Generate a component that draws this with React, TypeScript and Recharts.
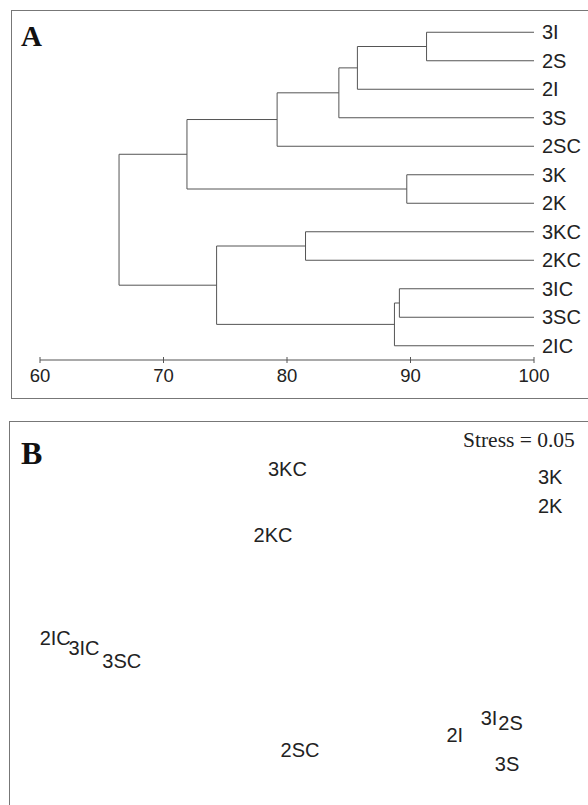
import { Scatter, ScatterChart, XAxis, YAxis } from "recharts";

// dendrogram leaves, top to bottom
const leafNames = ["3I", "2S", "2I", "3S", "2SC", "3K", "2K", "3KC", "2KC", "3IC", "3SC", "2IC"];

// merges in order: m0..m10 (similarity %)
const mergeLeft = ["3I", "m0", "m1", "m2", "3K", "m3", "3KC", "3IC", "m7", "m6", "m5"];
const mergeRight = ["2S", "2I", "3S", "2SC", "2K", "m4", "2KC", "3SC", "2IC", "m8", "m9"];
const mergeSimilarity = [91.3, 85.7, 84.2, 79.2, 89.7, 71.9, 81.5, 89.1, 88.7, 74.3, 66.4];

const simTicks = [60, 70, 80, 90, 100];

// NMDS ordination
const nmdsLabels = ["3KC", "2KC", "3K", "2K", "2IC", "3IC", "3SC", "2SC", "2I", "3I", "2S", "3S"];
const nmdsAxis1 = [-0.07, -0.15, 1.39, 1.39, -1.36, -1.2, -0.99, 0.0, 0.86, 1.05, 1.17, 1.15];
const nmdsAxis2 = [0.89, 0.5, 0.84, 0.67, -0.1, -0.16, -0.24, -0.76, -0.67, -0.57, -0.6, -0.84];

const SANS = "'Liberation Sans', Arial, sans-serif";
const SERIF = "'Liberation Serif', 'Times New Roman', serif";
const INK = "#222";
const LINE = "#555";

type Node = { x: number; y: number };

function buildLinks() {
  const nodes: Record<string, Node> = {};
  leafNames.forEach((n, i) => (nodes[n] = { x: 100, y: i }));
  const links: Node[][] = [];
  mergeSimilarity.forEach((h, i) => {
    const a = nodes[mergeLeft[i]];
    const b = nodes[mergeRight[i]];
    links.push([
      { x: a.x, y: a.y },
      { x: h, y: a.y },
      { x: h, y: b.y },
      { x: b.x, y: b.y },
    ]);
    nodes["m" + i] = { x: h, y: (a.y + b.y) / 2 };
  });
  return links;
}

const links = buildLinks();
const nmdsData = nmdsLabels.map((name, i) => ({ name, x: nmdsAxis1[i], y: nmdsAxis2[i] }));

const SimTick = (props: any) => {
  const { x, y, payload } = props;
  return (
    <g>
      <line x1={x} x2={x} y1={y - 3} y2={y + 3} stroke={LINE} />
      <text x={x} y={y + 22} textAnchor="middle" fontSize={18.5} fill={INK} fontFamily={SANS}>
        {payload.value}
      </text>
    </g>
  );
};

const LabelShape = (props: any) => {
  const { cx, cy, payload } = props;
  return (
    <text x={cx} y={cy} dy="0.35em" textAnchor="middle" fontSize={20} fill={INK} fontFamily={SANS}>
      {payload.name}
    </text>
  );
};

export default function App() {
  return (
    <div style={{ position: "absolute", left: 0, top: 0, width: 588, height: 805, overflow: "hidden", background: "#fff" }}>
      {/* panel A */}
      <div style={{ position: "absolute", left: 11, top: 10, width: 620, height: 387, border: "1px solid #777" }} />
      <div style={{ position: "absolute", left: 0, top: 0 }}>
        <ScatterChart width={588} height={398} margin={{ top: 18, right: 0, bottom: 0, left: 40 }}>
          <XAxis
            type="number"
            dataKey="x"
            domain={[60, 100]}
            ticks={simTicks}
            interval={0}
            height={38}
            tickSize={0}
            tickMargin={0}
            tickLine={false}
            axisLine={{ stroke: LINE }}
            tick={<SimTick />}
          />
          <YAxis
            type="number"
            dataKey="y"
            orientation="right"
            domain={[-0.5, 11.5]}
            reversed
            ticks={leafNames.map((_, i) => i)}
            interval={0}
            width={54}
            axisLine={false}
            tickLine={false}
            tickSize={0}
            tickMargin={8}
            tickFormatter={(v: number) => leafNames[v]}
            tick={{ fontSize: 20, fill: INK, fontFamily: SANS }}
          />
          {links.map((pts, i) => (
            <Scatter
              key={i}
              data={pts}
              line={{ stroke: LINE, strokeWidth: 1 }}
              shape={() => <g />}
              isAnimationActive={false}
            />
          ))}
        </ScatterChart>
      </div>
      <div style={{ position: "absolute", left: 21, top: 22, fontFamily: SERIF, fontWeight: "bold", fontSize: 29, lineHeight: 1, color: "#111" }}>
        A
      </div>

      {/* panel B */}
      <div style={{ position: "absolute", left: 9, top: 421, width: 620, height: 420, border: "1px solid #777" }} />
      <div style={{ position: "absolute", left: 0, top: 421 }}>
        <ScatterChart width={588} height={384} margin={{ top: 29, right: 18, bottom: 14, left: 30 }}>
          <XAxis type="number" dataKey="x" domain={[-1.5, 1.5]} hide />
          <YAxis type="number" dataKey="y" domain={[-1, 1]} hide />
          <Scatter data={nmdsData} shape={<LabelShape />} isAnimationActive={false} />
        </ScatterChart>
      </div>
      <div style={{ position: "absolute", left: 21, top: 437, fontFamily: SERIF, fontWeight: "bold", fontSize: 32, lineHeight: 1, color: "#111" }}>
        B
      </div>
      <div style={{ position: "absolute", left: 463, top: 430, fontFamily: SERIF, fontSize: 21.5, lineHeight: 1, color: INK }}>
        Stress = 0.05
      </div>
    </div>
  );
}
